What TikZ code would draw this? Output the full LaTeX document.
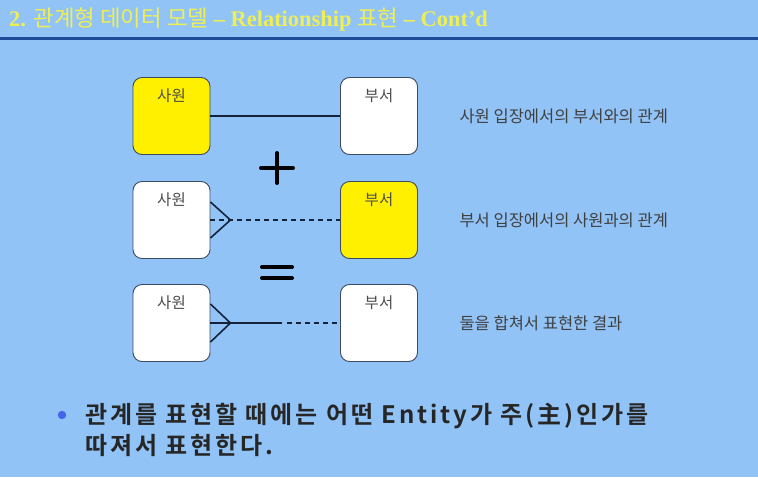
\documentclass[tikz,border=0pt]{standalone}
\usepackage{fontspec}
\setmainfont{Liberation Serif}
\newfontfamily\krfont{Noto Sans CJK KR}
\newfontfamily\krbold[LetterSpace=12]{Noto Sans CJK KR Bold}
\usetikzlibrary{calc}

\definecolor{slidebg}{RGB}{146,195,247}
\definecolor{titleyellow}{RGB}{238,238,85}
\definecolor{rulenavy}{RGB}{30,75,150}
\definecolor{linknavy}{RGB}{20,35,60}
\definecolor{boxedge}{RGB}{60,75,95}
\definecolor{entyellow}{RGB}{255,240,0}
\definecolor{bulletblue}{RGB}{70,100,235}

\begin{document}
\begin{tikzpicture}[x=1pt, y=-1pt]

  % Styles for entities, links and captions
  \tikzset{
    ent/.style={draw=boxedge, line width=0.9pt, rounded corners=9pt,
      fill=white, minimum width=77pt, minimum height=77pt, inner sep=0pt},
    entname/.style={font=\krfont\fontsize{15.5}{17}\selectfont, text=black!70, anchor=north},
    link/.style={draw=linknavy, line width=1.6pt},
    dashlink/.style={link, dash pattern=on 5pt off 4pt},
    sign/.style={line width=4pt, line cap=round, black},
    caption/.style={font=\krfont\fontsize{16.5}{18}\selectfont, text=black!75, anchor=west}
  }

  % --- BACKGROUND AND TITLE ---
  \fill[slidebg] (0,0) rectangle (758,477);
  \useasboundingbox (0,0) rectangle (758,477);
  \node[anchor=base west, inner sep=0pt, text=titleyellow] (title) at (9,26)
    {\fontsize{22.4}{24}\selectfont\bfseries 2. {\krfont\mdseries 관계형 데이터 모델} – Relationship {\krfont\mdseries 표현} – Cont’d};
  \coordinate (ruleL) at (0,38);
  \coordinate (ruleR) at (758,38);
  \draw[rulenavy, line width=3pt] (ruleL) -- (ruleR);

  % 1. Entity boxes (three rows)
  \node[ent, fill=entyellow] (emp1) at (171.5,116) {};
  \node[ent] (dep1) at (379,116) {};
  \node[ent] (emp2) at (171.5,220) {};
  \node[ent, fill=entyellow] (dep2) at (379,220) {};
  \node[ent] (emp3) at (171.5,323) {};
  \node[ent] (dep3) at (379,323) {};

  \foreach \e/\t in {emp1/사원, dep1/부서, emp2/사원, dep2/부서, emp3/사원, dep3/부서}
    \node[entname] at ([yshift=-8pt]\e.north) {\t};

  % 2. Crow's foot points
  \coordinate (foot2) at ([xshift=20pt]emp2.east);
  \coordinate (foot3) at ([xshift=20pt]emp3.east);
  \coordinate (half3) at ([xshift=72pt]emp3.east);
  \coordinate (dash3) at ([xshift=77pt]emp3.east);

  % --- DRAWING LINKS ---
  % Row 1: one to one
  \draw[link] (emp1.east) -- (dep1.west);

  % Row 2: many side at emp, dashed
  \draw[dashlink] (emp2.east) -- (dep2.west);
  \draw[link] ([yshift=18pt]emp2.east) -- (foot2) -- ([yshift=-18pt]emp2.east);

  % Row 3: combined, half solid half dashed
  \draw[link] (emp3.east) -- (half3);
  \draw[dashlink] (dash3) -- (dep3.west);
  \draw[link] ([yshift=19pt]emp3.east) -- (foot3) -- ([yshift=-19pt]emp3.east);

  % --- PLUS AND EQUALS ---
  \coordinate (plus) at (277,168);
  \draw[sign] ($(plus)+(0,-15)$) -- ($(plus)+(0,15)$);
  \draw[sign] ($(plus)+(-16,0)$) -- ($(plus)+(16,0)$);
  \coordinate (eq) at (277,272.5);
  \draw[sign] ($(eq)+(-15,-5.5)$) -- ($(eq)+(15,-5.5)$);
  \draw[sign] ($(eq)+(-15,5.5)$) -- ($(eq)+(15,5.5)$);

  % --- CAPTIONS ---
  \node[caption] (cap1) at (456,116) {사원 입장에서의 부서와의 관계};
  \node[caption] (cap2) at (456,220) {부서 입장에서의 사원과의 관계};
  \node[caption] (cap3) at (456,323) {둘을 합쳐서 표현한 결과};

  % --- BULLET ---
  \fill[bulletblue] (62,415) circle (4.2pt);
  \node[anchor=west, align=left, inner sep=0pt, text=black!85,
    font=\krbold\fontsize{24}{31}\selectfont] (note) at (85,430)
    {관계를 표현할 때에는 어떤 Entity가 주(主)인가를\\따져서 표현한다.};

\end{tikzpicture}
\end{document}
